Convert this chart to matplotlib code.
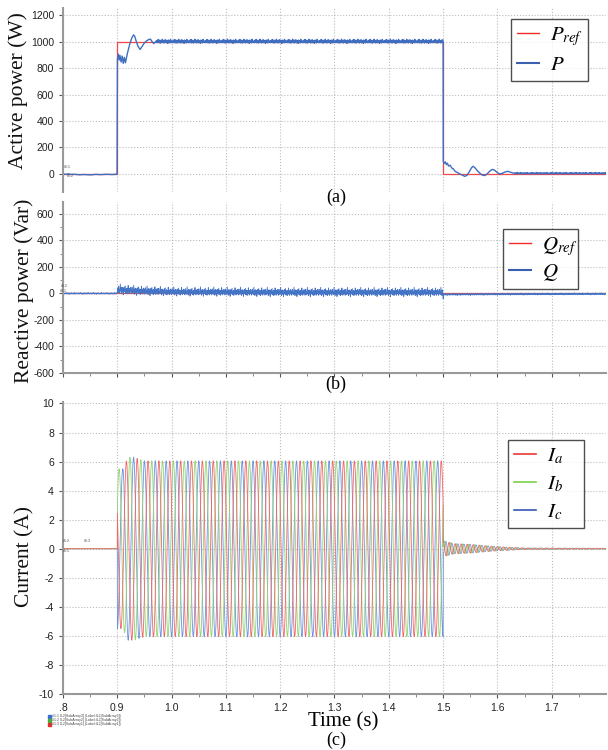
import numpy as np
import matplotlib
matplotlib.use("Agg")
import matplotlib.pyplot as plt
from matplotlib.ticker import MultipleLocator, FixedLocator
from matplotlib.lines import Line2D

plt.rcParams['font.family'] = ['Liberation Sans', 'DejaVu Sans']
plt.rcParams['mathtext.fontset'] = 'stix'
plt.rcParams['axes.unicode_minus'] = False

# ---------------- values ----------------
x_ticks = [0.8, 0.9, 1.0, 1.1, 1.2, 1.3, 1.4, 1.5, 1.6, 1.7]
x_ticklabels = ['.8', '0.9', '1.0', '1.1', '1.2', '1.3', '1.4', '1.5', '1.6', '1.7']

# (a) active power
pref_t = [0.8, 0.9, 0.9, 1.5, 1.5, 1.8]
pref_v = [0, 0, 1000, 1000, 0, 0]

p_pre_t = [0.800, 0.805, 0.810, 0.815, 0.820, 0.830, 0.840, 0.850, 0.860, 0.870, 0.880, 0.890, 0.8995]
p_pre_v = [2, -3, 1, -4, -2, -6, -4, -7, -3, -5, -2, -4, -2]

p_on_t = [0.9003, 0.902, 0.9035, 0.905, 0.907, 0.909, 0.911, 0.913, 0.915, 0.918, 0.921, 0.924,
          0.927, 0.930, 0.932, 0.935, 0.938, 0.942, 0.946, 0.950, 0.954, 0.958, 0.961, 0.964,
          0.967, 0.970]
p_on_v = [870, 905, 860, 895, 845, 890, 835, 880, 840, 900, 950, 995,
          1030, 1050, 1040, 1000, 965, 940, 965, 990, 1005, 1015, 1018, 1000,
          985, 995]

p_off_t = [1.5, 1.5003, 1.502, 1.504, 1.506, 1.508, 1.510, 1.513, 1.516, 1.519, 1.522, 1.526,
           1.530, 1.535, 1.540, 1.544, 1.548, 1.552, 1.555, 1.558, 1.562, 1.567, 1.572, 1.577,
           1.581, 1.586, 1.591, 1.595, 1.600, 1.604, 1.609, 1.614, 1.619, 1.624, 1.630]
p_off_v = [1000, 95, 80, 92, 70, 82, 60, 66, 45, 38, 20, 12,
           2, -8, -18, -10, 15, 45, 58, 50, 30, 8, -8, -12,
           0, 22, 35, 28, 10, 0, 5, 15, 20, 14, 6]

# ripple of P around its settled value (W)
p_ripple = [5, -8, 11, -4, 15, -10, 3, 9, -12, 6, -3, 17, -7, 4, -11, 10, -5, 13, -9, 2,
            7, -14, 11, -4, 5, -10, 16, -6, 3, -8]

# (b) reactive power
q_mean_t = [0.8, 0.8995, 0.9005, 0.93, 1.0, 1.2, 1.4995, 1.5005, 1.6, 1.8]
q_mean_v = [0, 0, 28, 20, 12, 8, 8, -8, -6, -3]
q_band_v = [5, 5, 28, 26, 24, 24, 24, 6, 6, 6]
q_ripple = [0.2, -0.5, 0.9, -0.1, 0.4, -0.9, 0.3, 1.0, -0.4, 0.1, -0.7, 0.6, 1.6, -0.3,
            0.5, -1.0, 0.2, 0.8, -0.6, 0.0, 0.7, -1.3, 0.4, -0.2, 0.9, -0.5, 0.3, 1.2,
            -0.8, 0.1, -0.4, 0.6, -1.0, 0.5, 0.2, -0.6, 1.4, -0.2, 0.3, -0.9, 0.6]

# (c) three-phase currents
i_freq = 50.0          # Hz, counted from the waveform
i_phase0 = 60.0        # deg of phase a at t = 0.9 s (Ia jumps to ~3 A)
i_amp_t = [0.9, 0.91, 0.92, 0.93, 0.95, 1.5]
i_amp_v = [5.5, 5.5, 6.3, 6.3, 6.05, 6.05]
tail_t = [1.5, 1.52, 1.55, 1.58, 1.61, 1.65, 1.8]
tail_v = [0.55, 0.35, 0.3, 0.2, 0.12, 0.05, 0.03]
tail_freq = 90.0

# ---------------- building the traces ----------------
def tiled(pattern, n):
    return np.resize(np.array(pattern, dtype=float), n)

t_ss = np.arange(0.972, 1.4995, 0.0010)
p_ss = 1000 + tiled(p_ripple, len(t_ss))
t_tail = np.arange(1.632, 1.8, 0.0012)
p_tail = 5 + 0.4 * tiled(p_ripple[7:] + p_ripple[:7], len(t_tail))
p_t = np.concatenate([p_pre_t, p_on_t, t_ss, p_off_t, t_tail])
p_v = np.concatenate([p_pre_v, p_on_v, p_ss, p_off_v, p_tail])

q_t = np.arange(0.8, 1.8, 0.0006)
q_v = np.interp(q_t, q_mean_t, q_mean_v) + np.interp(q_t, q_mean_t, q_band_v) * tiled(q_ripple, len(q_t))
q_v[np.argmin(np.abs(q_t - 1.5005))] = -40

t_i = np.arange(0.8, 1.8, 0.0002)
on = (t_i >= 0.9) & (t_i < 1.5)
off = t_i >= 1.5
theta = 2 * np.pi * i_freq * (t_i - 0.9) + np.deg2rad(i_phase0)
amp = np.interp(t_i, i_amp_t, i_amp_v)
tail_amp = np.interp(t_i, tail_t, tail_v)
tail_th = 2 * np.pi * tail_freq * (t_i - 1.5)
currents = []
for k, shift in enumerate([0, -120, 120]):
    i = np.zeros_like(t_i)
    i[on] = amp[on] * np.cos(theta[on] + np.deg2rad(shift))
    i[off] = tail_amp[off] * np.cos(tail_th[off] + np.deg2rad(shift + 40 * k))
    currents.append(i)
ia, ib, ic = currents

# ---------------- drawing ----------------
fig = plt.figure(figsize=(6.08, 7.5), dpi=100)
W, H = 608.0, 750.0


def make_axes(top, bottom, left=63, right=606):
    return fig.add_axes([left / W, 1 - bottom / H, (right - left) / W, (bottom - top) / H])


def style(ax, ylabel, label_x, label_y, show_bottom, xlabels):
    ax.set_xlim(0.8, 1.8)
    ax.xaxis.set_major_locator(FixedLocator(x_ticks))
    ax.xaxis.set_minor_locator(FixedLocator([v + 0.05 for v in x_ticks]))
    ax.grid(True, which='major', ls=':', color='#bbbbbb', lw=0.8)
    for s in ['top', 'right']:
        ax.spines[s].set_visible(False)
    ax.spines['left'].set_color('#999999')
    ax.spines['left'].set_linewidth(1.5)
    ax.spines['bottom'].set_color('#999999')
    ax.spines['bottom'].set_linewidth(1.5)
    ax.spines['bottom'].set_visible(show_bottom)
    ax.tick_params(axis='both', which='major', labelsize=7.5, colors='#555555',
                   labelcolor='#222222', length=3)
    ax.tick_params(axis='both', which='minor', colors='#777777', length=2)
    if xlabels:
        ax.set_xticklabels(x_ticklabels)
    else:
        ax.tick_params(axis='x', which='both', labelbottom=False)
        if not show_bottom:
            ax.tick_params(axis='x', which='both', length=0)
    ax.set_ylabel(ylabel, family='Liberation Serif', fontsize=15.5, color='#111111')
    ax.yaxis.set_label_coords(label_x, label_y)


def tiny(x, y, s):
    fig.text(x / W, 1 - y / H, s, fontsize=2.5, color='#444444', va='center')


def add_legend(ax, handles, labels, box, spacing):
    # box = (left, top, right) in pixels
    x0, y0, x1 = box
    leg = ax.legend(handles, labels, loc='upper left', mode='expand',
                    bbox_to_anchor=(x0 / W, 1 - y0 / H, (x1 - x0) / W, 0.0001),
                    bbox_transform=fig.transFigure, frameon=True, fancybox=False,
                    fontsize=15, edgecolor='#222222', handlelength=1.05,
                    handletextpad=0.5, borderpad=0.3, labelspacing=spacing,
                    borderaxespad=0)
    leg.get_frame().set_linewidth(1.0)
    return leg


# (a)
ax1 = make_axes(8, 192)
ax1.plot(pref_t, pref_v, color='#f24a4a', lw=0.9)
ax1.plot(p_t, p_v, color='#3f6ec0', lw=1.0)
ax1.set_ylim(-136, 1253)
ax1.yaxis.set_major_locator(MultipleLocator(200))
style(ax1, 'Active power (W)', -0.064, 0.55, False, False)
add_legend(ax1, [Line2D([], [], color='#f22a2a', lw=1), Line2D([], [], color='#3a5fb0', lw=1.5)],
           ['$P_{ref}$', '$P$'], (511, 19, 588), 0.35)
fig.text(336 / W, 1 - 197 / H, '(a)', family='Liberation Serif', fontsize=13,
         ha='center', va='center')
tiny(64, 167, '#1:1')
tiny(67, 176, '#1:2')

# (b)
ax2 = make_axes(202, 373)
ax2.plot([0.8, 1.8], [0, 0], color='#f24a4a', lw=0.9)
ax2.plot(q_t, q_v, color='#4474c6', lw=0.6)
ax2.set_ylim(-600, 690)
ax2.yaxis.set_major_locator(MultipleLocator(200))
ax2.yaxis.set_minor_locator(MultipleLocator(100))
style(ax2, 'Reactive power (Var)', -0.053, 0.48, True, False)
add_legend(ax2, [Line2D([], [], color='#f22a2a', lw=1), Line2D([], [], color='#3a5fb0', lw=1.5)],
           ['$Q_{ref}$', '$Q$'], (503, 229, 578), 0.2)
fig.text(336 / W, 1 - 384 / H, '(b)', family='Liberation Serif', fontsize=13,
         ha='center', va='center')
tiny(61, 286, '#1:2')
tiny(60, 291, '#1:1')

# (c)
ax3 = make_axes(402, 694)
ax3.plot(t_i, ic, color='#6a92e0', lw=0.6)
ax3.plot(t_i, ib, color='#92d472', lw=0.6)
ax3.plot(t_i, ia, color='#f06666', lw=0.6)
ax3.set_ylim(-10, 10.1)
ax3.yaxis.set_major_locator(MultipleLocator(2))
style(ax3, 'Current (A)', -0.053, 0.47, True, True)
add_legend(ax3, [Line2D([], [], color='#e53935', lw=1.2), Line2D([], [], color='#7cd14a', lw=1.2),
                 Line2D([], [], color='#3557b5', lw=1.2)],
           ['$I_a$', '$I_b$', '$I_c$'], (508, 440, 584), 0.4)
fig.text(343 / W, 1 - 722 / H, 'Time (s)', family='Liberation Serif', fontsize=15,
         ha='center', va='center')
fig.text(336 / W, 1 - 740 / H, '(c)', family='Liberation Serif', fontsize=13,
         ha='center', va='center')
tiny(63, 541, '#1:2')
tiny(63, 551, '#1:1')
tiny(84, 541, '#1:3')

# small channel list under panel (c)
chan_names = ['#1:1 IL2[SubArray3] (Label:IL2[SubArray3])',
              '#1:2 IL2[SubArray2] (Label:IL2[SubArray2])',
              '#1:3 IL2[SubArray1] (Label:IL2[SubArray1])']
chan_colors = ['#3b6fd0', '#4cae3a', '#e03030']
for k, (name, col) in enumerate(zip(chan_names, chan_colors)):
    y = 716.5 + 4 * k
    fig.patches.append(plt.Rectangle((48 / W, 1 - (y + 1.5) / H), 3 / W, 3 / H,
                                     transform=fig.transFigure, color=col))
    tiny(52, y, name)

fig.savefig('out.png', dpi=100)
